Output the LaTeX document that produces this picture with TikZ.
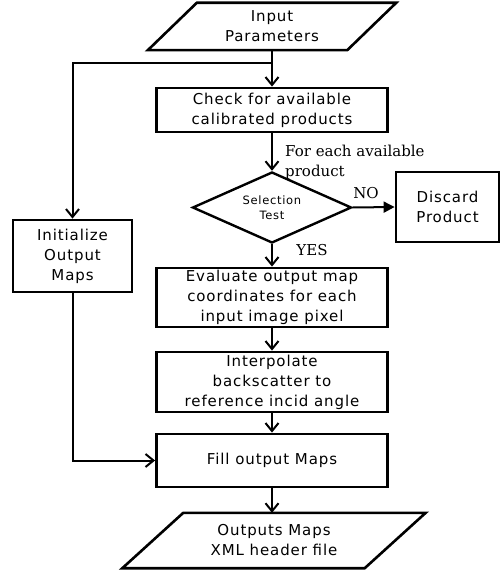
\documentclass[tikz,border=0pt]{standalone}
\usepackage{fontspec}
\setmainfont{DejaVu Serif}
\newfontfamily\boxfont[LetterSpace=6]{DejaVu Sans}
\usetikzlibrary{arrows.meta,shapes.geometric}
\begin{document}
\begin{tikzpicture}[x=1pt,y=-1pt,
  boxtext/.style={font=\boxfont\fontsize{15}{20}\selectfont, align=center},
  pbox/.style={boxtext, draw, line width=2.8pt, inner sep=0pt, minimum width=231pt},
  iobox/.style={boxtext, inner sep=0pt},
  shapeline/.style={line width=2.6pt, line join=miter},
  dia/.style={draw, shape=diamond, line width=2.4pt, inner sep=0pt, aspect=2.24,
    minimum width=159pt, minimum height=71pt, align=center,
    font=\boxfont\fontsize{11.5}{15}\selectfont},
  lbl/.style={font=\fontsize{15}{20}\selectfont, inner sep=0pt, align=left},
  conn/.style={line width=2pt, -{Straight Barb[length=8pt,width=13pt]}},
  connno/.style={line width=2pt, -{Triangle[length=11pt,width=11pt]}}
]
\useasboundingbox (0,0) rectangle (500,575);

% input parallelogram
\node[iobox, minimum width=199pt, minimum height=47pt] (in) at (272,26.5) {Input\\Parameters};
\draw[shapeline] ([xshift=24.5pt]in.north west) -- ([xshift=24.5pt]in.north east)
  -- ([xshift=-24.5pt]in.south east) -- ([xshift=-24.5pt]in.south west) -- cycle;

\node[pbox, minimum height=44pt] (check) at (272,110) {Check for available\\calibrated products};
\node[dia] (sel) at (272,207.5) {Selection\\Test};
\node[pbox, minimum width=103pt, minimum height=70pt] (disc) at (447.5,207) {Discard\\Product};
\node[pbox, minimum width=119pt, minimum height=72pt] (init) at (72.5,256) {Initialize\\Output\\Maps};
\node[pbox, minimum height=59pt] (eval) at (272,297.5) {Evaluate output map\\coordinates for each\\input image pixel};
\node[pbox, minimum height=60pt] (interp) at (272,382) {Interpolate\\backscatter to\\reference incid angle};
\node[pbox, minimum height=53pt] (fill) at (272,460.5) {Fill output Maps};

% output parallelogram
\node[iobox, minimum width=242pt, minimum height=55pt] (out) at (274,540.5) {Outputs Maps\\XML header file};
\draw[shapeline] ([xshift=30.5pt]out.north west) -- ([xshift=30.5pt]out.north east)
  -- ([xshift=-30.5pt]out.south east) -- ([xshift=-30.5pt]out.south west) -- cycle;

% labels
\node[lbl, anchor=north west] (fe) at (285,144.5) {For each available\\product};
\node[lbl] (no) at (366,193) {NO};
\node[lbl] (yes) at (312,250) {YES};

% connectors
\coordinate (j) at (272,63);
\draw[conn] (in.south) -- (check.north);
\draw[conn] (j) -| (init.north);
\draw[conn] (check.south) -- (sel.north);
\draw[connno] (sel.east) -- (disc.west);
\draw[conn] (sel.south) -- (eval.north);
\draw[conn] (eval.south) -- (interp.north);
\draw[conn] (interp.south) -- (fill.north);
\draw[conn] (init.south) |- (fill.west);
\draw[conn] (fill.south) -- (fill.south |- out.north);
\end{tikzpicture}
\end{document}
